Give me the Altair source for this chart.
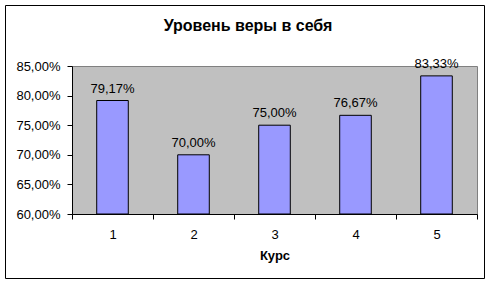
import altair as alt
import pandas as pd

courses = ["1", "2", "3", "4", "5"]
values = [0.7917, 0.70, 0.75, 0.7667, 0.8333]
y_ticks = [0.60, 0.65, 0.70, 0.75, 0.80, 0.85]
title_text = "Уровень веры в себя"
x_title = "Курс"

FONT = "Liberation Sans"
PCT = "replace(format(datum.value, '.2%'), '.', ',')"

df = pd.DataFrame({"course": courses, "value": values})

x = alt.X(
    "course:N", sort=courses, title=x_title,
    scale=alt.Scale(paddingInner=0, paddingOuter=0),
    axis=alt.Axis(labelAngle=0, tickBand="extent", tickSize=5, labelPadding=9,
                  titlePadding=8, domainColor="black", tickColor="black",
                  labelColor="black", labelFontSize=13, labelFont=FONT,
                  titleFont=FONT, titleFontSize=13, titleFontWeight="bold",
                  titleColor="black"),
)
y = alt.Y(
    "value:Q", title=None,
    scale=alt.Scale(domain=[0.6, 0.85], nice=False, zero=False),
    axis=alt.Axis(values=y_ticks, labelExpr=PCT, grid=False, tickSize=5,
                  labelPadding=7, domainColor="black", tickColor="black",
                  labelColor="black", labelFontSize=13, labelFont=FONT),
)

bars = alt.Chart(df).mark_bar(
    width=alt.RelativeBandSize(0.39), fill="#9999FF", stroke="black", strokeWidth=1
).encode(x=x, y=y, y2=alt.datum(0.6))

labels = alt.Chart(df).transform_calculate(
    label=PCT
).mark_text(dy=-8, baseline="alphabetic", font=FONT, fontSize=13, color="black").encode(
    x=x, y=y, text="label:N"
)

one = pd.DataFrame({"a": [0]})
L, R, T, B = -66.5, 412.5, -60.5, 212.5
edges = [
    alt.Chart(one).mark_rule(color="black", strokeWidth=1).encode(
        x=alt.value(L), x2=alt.value(R), y=alt.value(T)),
    alt.Chart(one).mark_rule(color="black", strokeWidth=1).encode(
        x=alt.value(L), x2=alt.value(R), y=alt.value(B)),
    alt.Chart(one).mark_rule(color="black", strokeWidth=1).encode(
        x=alt.value(L), y=alt.value(T), y2=alt.value(B)),
    alt.Chart(one).mark_rule(color="black", strokeWidth=1).encode(
        x=alt.value(R), y=alt.value(T), y2=alt.value(B)),
]

title = alt.Chart(pd.DataFrame({"t": [title_text]})).mark_text(
    font=FONT, fontSize=16, fontWeight="bold", color="black",
    baseline="alphabetic", align="center"
).encode(x=alt.value(176), y=alt.value(-35), text="t:N")

chart = alt.layer(*edges, bars, labels, title).properties(
    width=405, height=148,
    autosize=alt.AutoSizeParams(type="none"),
    padding={"left": 72, "top": 66, "right": 14, "bottom": 70},
    background="white",
).configure_view(fill="#C0C0C0", stroke="#808080")

chart.save("out.html", embed_options={"renderer": "svg", "actions": False})
